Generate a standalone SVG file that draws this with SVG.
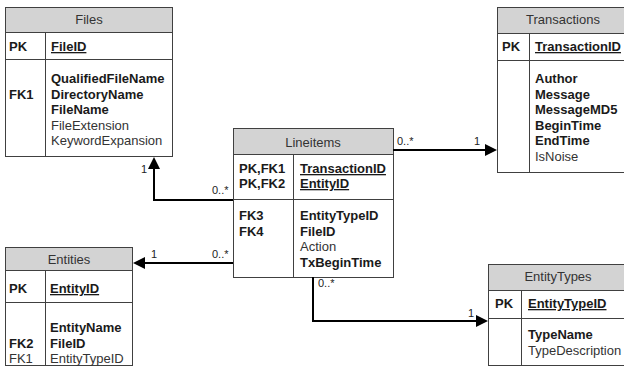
<svg xmlns="http://www.w3.org/2000/svg" width="624" height="370" viewBox="0 0 624 370">
  <style>
    text { font-family: "Liberation Sans", Arial, sans-serif; font-size: 13px; fill: #1a1a1a; }
    .b { font-weight: bold; }
    .r { fill: #333; }
    .u { text-decoration: underline; }
    .hd { text-anchor: middle; fill: #333; }
    .box { fill: #fff; stroke: #404040; stroke-width: 1; }
    .head { fill: #d3d3d3; stroke: #404040; stroke-width: 1; }
    .div { stroke: #404040; stroke-width: 1; fill: none; }
    .conn { fill: none; stroke: #000; stroke-width: 2; }
    .lbl { font-size: 11px; fill: #222; }
  </style>
  <defs>
    <marker id="arrow" markerUnits="userSpaceOnUse" markerWidth="13" markerHeight="13" refX="0" refY="6" orient="auto">
      <path d="M0,0 L12,6 L0,12 z" fill="#000"/>
    </marker>
  </defs>

  <!-- Files -->
  <g id="files">
    <rect class="box" x="5.5" y="7.5" width="167" height="149"/>
    <rect class="head" x="5.5" y="7.5" width="167" height="25"/>
    <line class="div" x1="5.5" y1="59.5" x2="172.5" y2="59.5"/>
    <line class="div" x1="45.5" y1="32.5" x2="45.5" y2="156.5"/>
    <text class="hd" x="89" y="24">Files</text>
    <text class="b" x="9" y="51">PK</text>
    <text class="b u" x="51" y="51">FileID</text>
    <text class="b" x="9" y="99">FK1</text>
    <text class="b" x="51" y="83">QualifiedFileName</text>
    <text class="b" x="51" y="99">DirectoryName</text>
    <text class="b" x="51" y="114">FileName</text>
    <text class="r" x="51" y="130">FileExtension</text>
    <text class="r" x="51" y="145">KeywordExpansion</text>
  </g>

  <!-- Transactions -->
  <g id="transactions">
    <rect class="box" x="497.5" y="7.5" width="130" height="165"/>
    <rect class="head" x="497.5" y="7.5" width="130" height="26"/>
    <line class="div" x1="497.5" y1="60.5" x2="627.5" y2="60.5"/>
    <line class="div" x1="529.5" y1="33.5" x2="529.5" y2="172.5"/>
    <text class="hd" x="563" y="24">Transactions</text>
    <text class="b" x="502" y="51">PK</text>
    <text class="b u" x="535" y="51">TransactionID</text>
    <text class="b" x="535" y="83">Author</text>
    <text class="b" x="535" y="99">Message</text>
    <text class="b" x="535" y="114">MessageMD5</text>
    <text class="b" x="535" y="130">BeginTime</text>
    <text class="b" x="535" y="145">EndTime</text>
    <text class="r" x="535" y="161">IsNoise</text>
  </g>

  <!-- Lineitems -->
  <g id="lineitems">
    <rect class="box" x="233.5" y="128.5" width="160" height="149"/>
    <rect class="head" x="233.5" y="128.5" width="160" height="26"/>
    <line class="div" x1="233.5" y1="199.5" x2="393.5" y2="199.5"/>
    <line class="div" x1="293.5" y1="154.5" x2="293.5" y2="277.5"/>
    <text class="hd" x="313" y="147">Lineitems</text>
    <text class="b" x="239" y="173">PK,FK1</text>
    <text class="b" x="239" y="188">PK,FK2</text>
    <text class="b u" x="300" y="173">TransactionID</text>
    <text class="b u" x="300" y="188">EntityID</text>
    <text class="b" x="239" y="220">FK3</text>
    <text class="b" x="239" y="236">FK4</text>
    <text class="b" x="300" y="220">EntityTypeID</text>
    <text class="b" x="300" y="236">FileID</text>
    <text class="r" x="300" y="251">Action</text>
    <text class="b" x="300" y="267">TxBeginTime</text>
  </g>

  <!-- Entities -->
  <g id="entities">
    <rect class="box" x="5.5" y="247.5" width="127" height="118"/>
    <rect class="head" x="5.5" y="247.5" width="127" height="23"/>
    <line class="div" x1="5.5" y1="302.5" x2="132.5" y2="302.5"/>
    <line class="div" x1="45.5" y1="270.5" x2="45.5" y2="365.5"/>
    <text class="hd" x="69" y="264">Entities</text>
    <text class="b" x="9" y="293">PK</text>
    <text class="b u" x="50" y="293">EntityID</text>
    <text class="b" x="9" y="348">FK2</text>
    <text class="r" x="9" y="363">FK1</text>
    <text class="b" x="50" y="332">EntityName</text>
    <text class="b" x="50" y="348">FileID</text>
    <text class="r" x="50" y="363">EntityTypeID</text>
  </g>

  <!-- EntityTypes -->
  <g id="entitytypes">
    <rect class="box" x="488.5" y="264.5" width="139" height="101"/>
    <rect class="head" x="488.5" y="264.5" width="139" height="26"/>
    <line class="div" x1="488.5" y1="318.5" x2="627.5" y2="318.5"/>
    <line class="div" x1="521.5" y1="290.5" x2="521.5" y2="365.5"/>
    <text class="hd" x="558" y="281">EntityTypes</text>
    <text class="b" x="495" y="308">PK</text>
    <text class="b u" x="528" y="308">EntityTypeID</text>
    <text class="b" x="528" y="339">TypeName</text>
    <text class="r" x="528" y="355">TypeDescription</text>
  </g>

  <!-- Relationships -->
  <g id="connectors">
    <path class="conn" d="M233,200 H154 V169" marker-end="url(#arrow)"/>
    <path class="conn" d="M393,150 H485" marker-end="url(#arrow)"/>
    <path class="conn" d="M233,263 H145" marker-end="url(#arrow)"/>
    <path class="conn" d="M313,277 V321 H476" marker-end="url(#arrow)"/>
    <text class="lbl" x="141" y="173">1</text>
    <text class="lbl" x="212" y="194">0..*</text>
    <text class="lbl" x="397" y="145">0..*</text>
    <text class="lbl" x="474" y="145">1</text>
    <text class="lbl" x="151" y="258">1</text>
    <text class="lbl" x="212" y="258">0..*</text>
    <text class="lbl" x="318" y="287">0..*</text>
    <text class="lbl" x="468" y="317">1</text>
  </g>
</svg>
